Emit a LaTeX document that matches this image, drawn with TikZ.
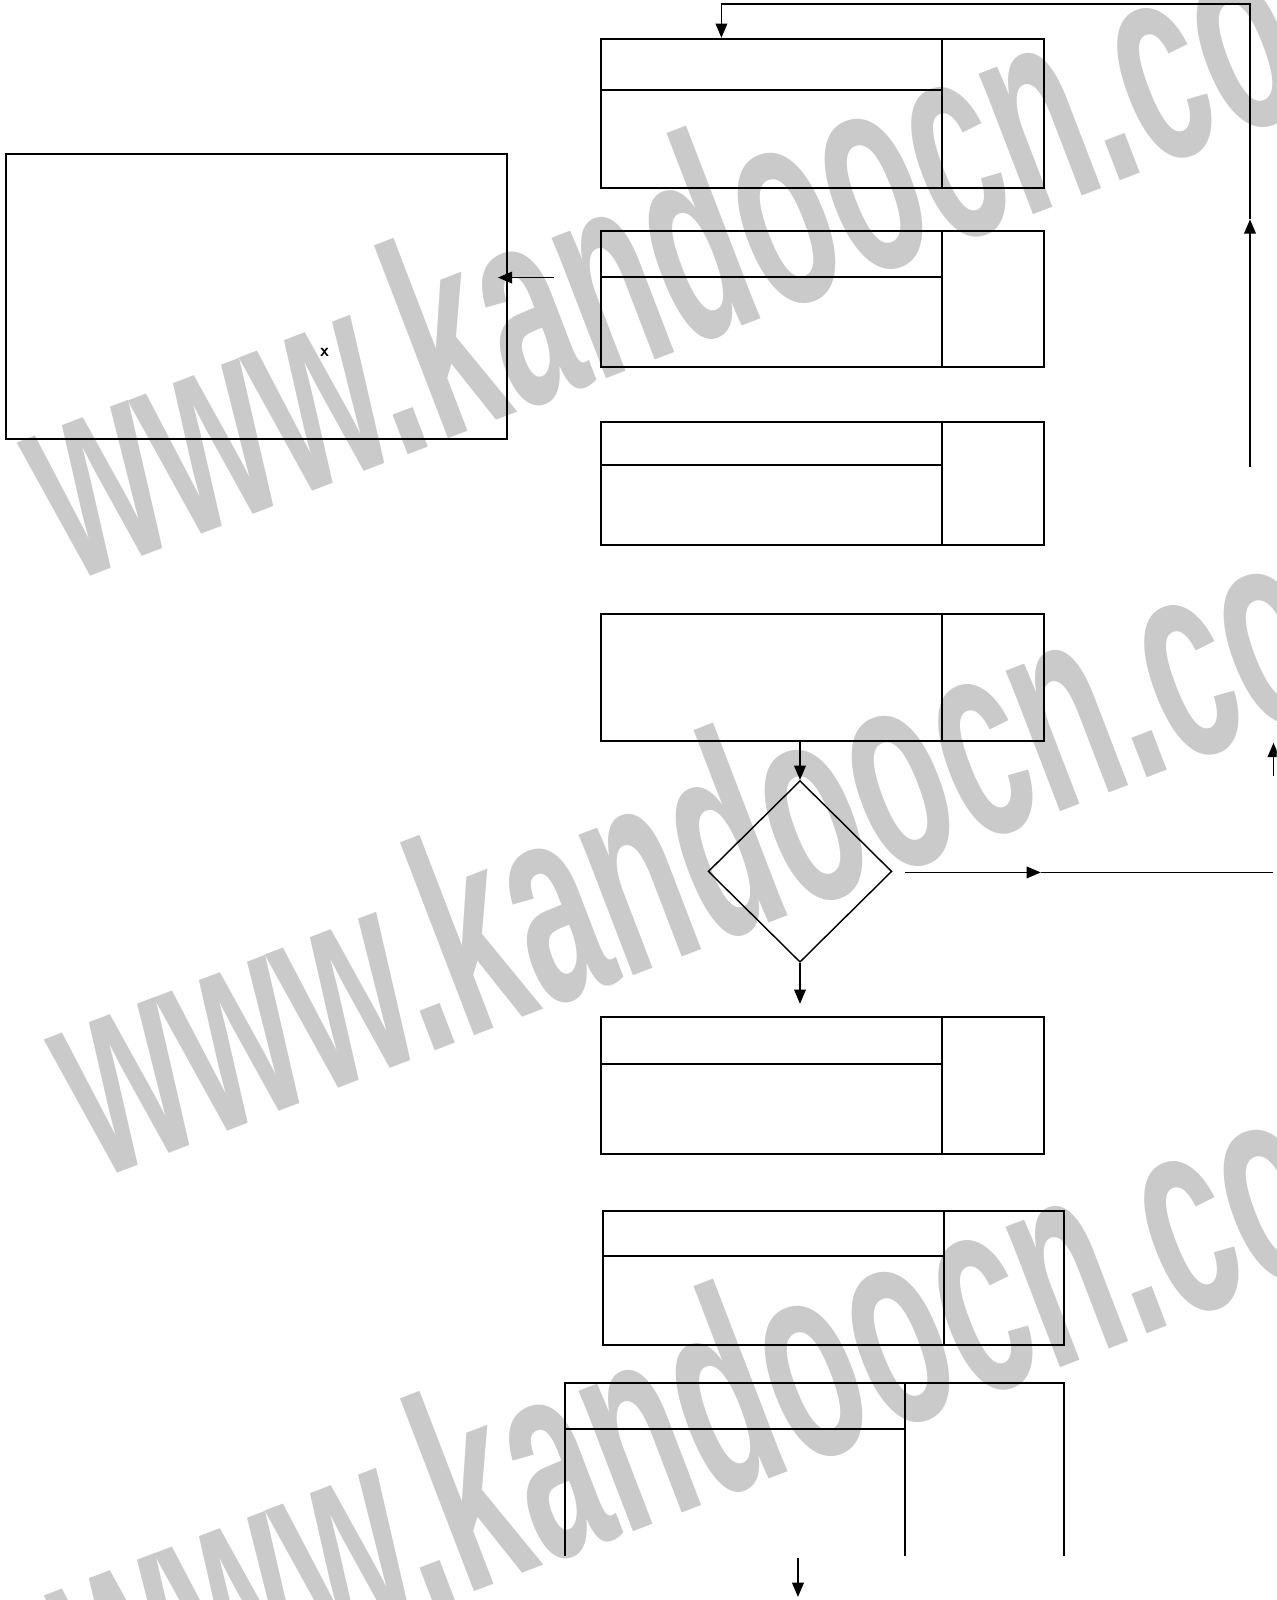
\documentclass[tikz,border=0pt]{standalone}
\usepackage{fontspec}
\usepackage{tikz}
\usetikzlibrary{arrows.meta,shapes.geometric}
\newfontfamily\markfont{Liberation Sans}
\definecolor{markgray}{HTML}{CACACA}

\begin{document}
\begin{tikzpicture}[
    x=0.2mm, y=-0.2mm,
    wmark/.style={text=markgray, font=\markfont\bfseries\fontsize{159}{160}\selectfont,
                  anchor=base west, inner sep=0pt, rotate=21, xscale=0.535},
    box/.style={draw, line width=1.1pt, inner sep=0pt, minimum width=86.8mm},
    split/.style={line width=1.1pt},
    dec/.style={draw, diamond, line width=0.8pt, inner sep=0pt,
                minimum width=36mm, minimum height=35.6mm},
    arr/.style={-{Triangle[length=2.8mm,width=2.3mm]}, line width=0.8pt},
    link/.style={line width=0.8pt}
  ]
    \path[use as bounding box] (0,0) rectangle (1251,1568);
    \clip (0,0) rectangle (1251,1568);

    \node[wmark] (wm1) at (70,572)  {www.kandoocn.com};
    \node[wmark] (wm2) at (96,1157) {www.kandoocn.com};
    \node[wmark] (wm3) at (96,1702) {www.kandoocn.com};

    \node[box, minimum width=98.2mm, minimum height=55.8mm] (big) at (251.5,290.5) {};
    \node[font=\sffamily\bfseries] (cross) at (318,345) {x};

    \node[box, minimum height=29.2mm] (b1) at (806,111) {};
    \node[box, minimum height=26.8mm] (b2) at (806,293) {};
    \node[box, minimum height=24mm]   (b3) at (806,474) {};
    \node[box, minimum height=24.8mm] (b4) at (806,664) {};
    \node[dec] (dia) at (784,854) {};
    \node[box, minimum height=26.8mm] (b5) at (806,1064) {};
    \node[box, minimum width=90.4mm, minimum height=26.2mm] (b6) at (817,1252.5) {};

    \draw[split] (923,38) -- (923,184);
    \draw[split] (589,88) -- (923,88);
    \draw[split] (923,226) -- (923,360);
    \draw[split] (589,271) -- (923,271);
    \draw[split] (923,414) -- (923,534);
    \draw[split] (589,456) -- (923,456);
    \draw[split] (923,602) -- (923,726);
    \draw[split] (923,997) -- (923,1131);
    \draw[split] (589,1043) -- (923,1043);
    \draw[split] (925,1187) -- (925,1318);
    \draw[split] (591,1231) -- (925,1231);

    \draw[split] (554,1525) -- (554,1355) -- (1043,1355) -- (1043,1525);
    \draw[split] (887,1355) -- (887,1525);
    \draw[split] (554,1400) -- (887,1400);

    \coordinate (fbbot) at (1225,458);
    \coordinate (fbmid) at (1225,215);
    \coordinate (fbtop) at (1225,4);
    \coordinate (fbin)  at (707,4);
    \coordinate (back)  at (543,272);
    \coordinate (yes)   at (887,855);
    \coordinate (yesmid) at (1020,855);
    \coordinate (yesend) at (1248,855);
    \coordinate (edge)  at (1248,760);
    \coordinate (out)   at (782,1527);

    \draw[arr] (fbbot) -- (fbmid);
    \draw[arr] (fbmid) -- (fbtop) -- (fbin) -- (fbin |- b1.north);
    \draw[arr, shorten >=-2mm] (back) -- (big.east |- back);
    \draw[arr] (dia.north |- b4.south) -- (dia.north);
    \draw[arr] (dia.south) -- ++(0,40);
    \draw[arr] (yes) -- (yesmid);
    \draw[link] (yesmid) -- (yesend);
    \draw[arr] (edge) -- ++(0,-32);
    \draw[arr] (out) -- ++(0,38);
  \end{tikzpicture}
\end{document}
